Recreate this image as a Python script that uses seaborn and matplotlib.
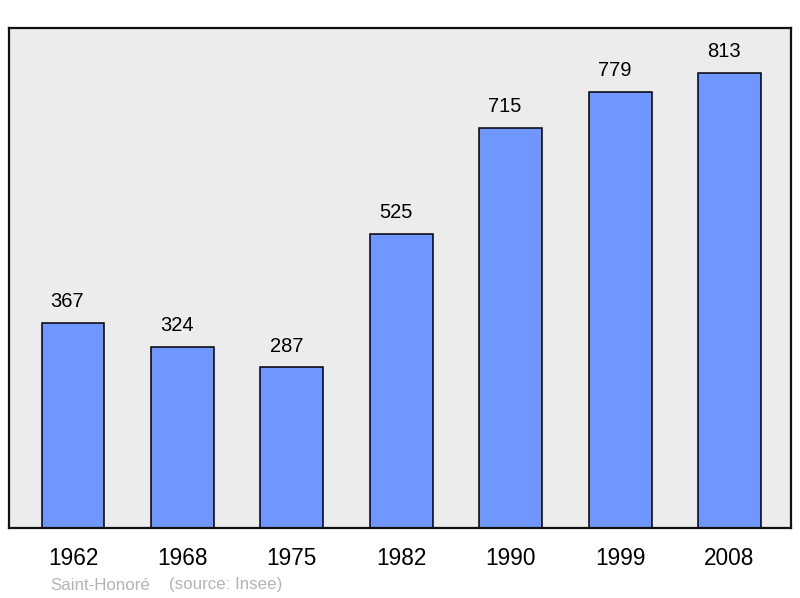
import matplotlib
matplotlib.use('Agg')
import matplotlib.pyplot as plt
import seaborn as sns
import pandas as pd

years = ["1962", "1968", "1975", "1982", "1990", "1999", "2008"]
population = [367, 324, 287, 525, 715, 779, 813]
place = "Saint-Honoré"
source = "(source: Insee)"

df = pd.DataFrame({"year": years, "population": population})

sns.set_style("white")
plt.rcParams['font.family'] = ['Liberation Sans', 'DejaVu Sans']

fig = plt.figure(figsize=(8, 5.98), dpi=100)
ax = fig.add_axes([9 / 800, 1 - 528 / 598, 782 / 800, 500 / 598])
ax.set_facecolor('#ececec')

sns.barplot(data=df, x="year", y="population", color='#7097ff', saturation=1,
            width=0.575, edgecolor='black', linewidth=1.1, ax=ax)

# value labels above bars
for i, v in enumerate(population):
    ax.annotate(str(v), (i, v), xytext=(-4, 8.5), textcoords='offset points',
                ha='center', va='bottom', fontsize=14.5, color='black')

ax.set_xlim(-0.585, 6.562)
ax.set_ylim(0, 893)
ax.set_yticks([])
ax.set_xlabel("")
ax.set_ylabel("")
ax.tick_params(axis='x', length=0, pad=13.5, labelsize=16.3, labelcolor='black')
for s in ax.spines.values():
    s.set_linewidth(1.6)
    s.set_color('#111111')
    s.set_joinstyle('round')

fig.text(50 / 800, 1 - 585 / 598, place, fontsize=12.2,
         color='#b4b4b4', va='center', ha='left')
fig.text(169 / 800, 1 - 585 / 598, source, fontsize=12.2,
         color='#b4b4b4', va='center', ha='left')

fig.savefig("out.png", dpi=100)
